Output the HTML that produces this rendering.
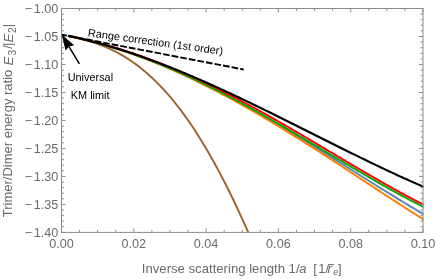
<!DOCTYPE html>
<html><head><meta charset="utf-8"><style>
html,body{margin:0;padding:0;background:#fff;}
body{width:436px;height:279px;overflow:hidden;position:relative;font-family:"Liberation Sans",sans-serif;}
</style></head><body>
<svg width="436" height="279" viewBox="0 0 436 279" style="position:absolute;left:0;top:0;will-change:transform">
<defs><clipPath id="c"><rect x="61.5" y="8.5" width="362.0" height="223.9"/></clipPath></defs>
<g clip-path="url(#c)" fill="none" stroke-width="1.9" stroke-linejoin="round">
<path d="M68.00,35.88 L70.00,36.29 L72.00,36.72 L74.00,37.15 L76.00,37.59 L78.00,38.04 L80.00,38.51 L82.00,38.98 L84.00,39.46 L86.00,39.95 L88.00,40.45 L90.00,40.95 L92.00,41.47 L94.00,42.00 L96.00,42.54 L98.00,43.08 L100.00,43.64 L102.00,44.20 L104.00,44.77 L106.00,45.36 L108.00,45.95 L110.00,46.55 L112.00,47.16 L114.00,47.78 L116.00,48.40 L118.00,49.04 L120.00,49.69 L122.00,50.34 L124.00,51.00 L126.00,51.68 L128.00,52.36 L130.00,53.05 L132.00,53.74 L134.00,54.45 L136.00,55.17 L138.00,55.89 L140.00,56.62 L142.00,57.36 L144.00,58.11 L146.00,58.87 L148.00,59.64 L150.00,60.41 L152.00,61.20 L154.00,61.99 L156.00,62.79 L158.00,63.59 L160.00,64.41 L162.00,65.23 L164.00,66.06 L166.00,66.90 L168.00,67.75 L170.00,68.61 L172.00,69.47 L174.00,70.34 L176.00,71.22 L178.00,72.10 L180.00,73.00 L182.00,73.90 L184.00,74.81 L186.00,75.72 L188.00,76.64 L190.00,77.57 L192.00,78.51 L194.00,79.46 L196.00,80.41 L198.00,81.37 L200.00,82.33 L202.00,83.31 L204.00,84.29 L206.00,85.27 L208.00,86.26 L210.00,87.26 L212.00,88.27 L214.00,89.28 L216.00,90.30 L218.00,91.33 L220.00,92.36 L222.00,93.40 L224.00,94.44 L226.00,95.49 L228.00,96.55 L230.00,97.61 L232.00,98.68 L234.00,99.75 L236.00,100.83 L238.00,101.92 L240.00,103.01 L242.00,104.10 L244.00,105.20 L246.00,106.31 L248.00,107.42 L250.00,108.54 L252.00,109.66 L254.00,110.79 L256.00,111.92 L258.00,113.06 L260.00,114.20 L262.00,115.34 L264.00,116.50 L266.00,117.65 L268.00,118.81 L270.00,119.97 L272.00,121.14 L274.00,122.32 L276.00,123.49 L278.00,124.67 L280.00,125.86 L282.00,127.04 L284.00,128.24 L286.00,129.43 L288.00,130.63 L290.00,131.83 L292.00,133.04 L294.00,134.25 L296.00,135.46 L298.00,136.67 L300.00,137.89 L302.00,139.11 L304.00,140.33 L306.00,141.56 L308.00,142.79 L310.00,144.02 L312.00,145.25 L314.00,146.49 L316.00,147.72 L318.00,148.96 L320.00,150.20 L322.00,151.45 L324.00,152.69 L326.00,153.94 L328.00,155.18 L330.00,156.43 L332.00,157.68 L334.00,158.93 L336.00,160.18 L338.00,161.44 L340.00,162.69 L342.00,163.95 L344.00,165.20 L346.00,166.46 L348.00,167.71 L350.00,168.97 L352.00,170.22 L354.00,171.48 L356.00,172.74 L358.00,173.99 L360.00,175.25 L362.00,176.50 L364.00,177.76 L366.00,179.01 L368.00,180.26 L370.00,181.51 L372.00,182.76 L374.00,184.01 L376.00,185.26 L378.00,186.51 L380.00,187.75 L382.00,188.99 L384.00,190.23 L386.00,191.47 L388.00,192.71 L390.00,193.94 L392.00,195.18 L394.00,196.40 L396.00,197.63 L398.00,198.86 L400.00,200.08 L402.00,201.29 L404.00,202.51 L406.00,203.72 L408.00,204.93 L410.00,206.13 L412.00,207.33 L414.00,208.53 L416.00,209.72 L418.00,210.91 L420.00,212.10 L422.00,213.28 L424.00,214.45" stroke="#5E81B5" stroke-width="1.95"/>
<path d="M68.00,35.88 L70.00,36.29 L72.00,36.72 L74.00,37.15 L76.00,37.60 L78.00,38.05 L80.00,38.51 L82.00,38.98 L84.00,39.47 L86.00,39.96 L88.00,40.46 L90.00,40.97 L92.00,41.49 L94.00,42.02 L96.00,42.56 L98.00,43.11 L100.00,43.67 L102.00,44.23 L104.00,44.81 L106.00,45.40 L108.00,45.99 L110.00,46.60 L112.00,47.21 L114.00,47.83 L116.00,48.46 L118.00,49.11 L120.00,49.76 L122.00,50.41 L124.00,51.08 L126.00,51.76 L128.00,52.45 L130.00,53.14 L132.00,53.85 L134.00,54.56 L136.00,55.28 L138.00,56.01 L140.00,56.75 L142.00,57.50 L144.00,58.26 L146.00,59.02 L148.00,59.80 L150.00,60.58 L152.00,61.37 L154.00,62.17 L156.00,62.98 L158.00,63.79 L160.00,64.62 L162.00,65.45 L164.00,66.29 L166.00,67.14 L168.00,68.00 L170.00,68.87 L172.00,69.74 L174.00,70.62 L176.00,71.51 L178.00,72.41 L180.00,73.31 L182.00,74.23 L184.00,75.15 L186.00,76.08 L188.00,77.01 L190.00,77.95 L192.00,78.91 L194.00,79.86 L196.00,80.83 L198.00,81.80 L200.00,82.78 L202.00,83.77 L204.00,84.77 L206.00,85.77 L208.00,86.78 L210.00,87.79 L212.00,88.82 L214.00,89.85 L216.00,90.88 L218.00,91.92 L220.00,92.97 L222.00,94.03 L224.00,95.09 L226.00,96.16 L228.00,97.24 L230.00,98.32 L232.00,99.41 L234.00,100.50 L236.00,101.60 L238.00,102.71 L240.00,103.82 L242.00,104.94 L244.00,106.06 L246.00,107.19 L248.00,108.33 L250.00,109.47 L252.00,110.62 L254.00,111.77 L256.00,112.93 L258.00,114.09 L260.00,115.26 L262.00,116.43 L264.00,117.61 L266.00,118.79 L268.00,119.98 L270.00,121.17 L272.00,122.37 L274.00,123.57 L276.00,124.78 L278.00,125.99 L280.00,127.20 L282.00,128.42 L284.00,129.64 L286.00,130.87 L288.00,132.10 L290.00,133.34 L292.00,134.58 L294.00,135.82 L296.00,137.07 L298.00,138.32 L300.00,139.57 L302.00,140.83 L304.00,142.09 L306.00,143.35 L308.00,144.62 L310.00,145.89 L312.00,147.16 L314.00,148.44 L316.00,149.72 L318.00,151.00 L320.00,152.28 L322.00,153.57 L324.00,154.86 L326.00,156.15 L328.00,157.44 L330.00,158.73 L332.00,160.03 L334.00,161.33 L336.00,162.63 L338.00,163.93 L340.00,165.23 L342.00,166.54 L344.00,167.84 L346.00,169.15 L348.00,170.46 L350.00,171.77 L352.00,173.08 L354.00,174.39 L356.00,175.70 L358.00,177.01 L360.00,178.32 L362.00,179.63 L364.00,180.95 L366.00,182.26 L368.00,183.57 L370.00,184.88 L372.00,186.19 L374.00,187.51 L376.00,188.82 L378.00,190.13 L380.00,191.44 L382.00,192.75 L384.00,194.05 L386.00,195.36 L388.00,196.67 L390.00,197.97 L392.00,199.27 L394.00,200.57 L396.00,201.87 L398.00,203.17 L400.00,204.47 L402.00,205.76 L404.00,207.05 L406.00,208.34 L408.00,209.62 L410.00,210.91 L412.00,212.19 L414.00,213.47 L416.00,214.74 L418.00,216.01 L420.00,217.28 L422.00,218.55 L424.00,219.81" stroke="#FF8000" stroke-width="1.95"/>
<path d="M68.00,35.87 L70.00,36.29 L72.00,36.71 L74.00,37.15 L76.00,37.61 L78.00,38.08 L80.00,38.57 L82.00,39.09 L84.00,39.62 L86.00,40.17 L88.00,40.75 L90.00,41.35 L92.00,41.98 L94.00,42.63 L96.00,43.31 L98.00,44.03 L100.00,44.77 L102.00,45.54 L104.00,46.34 L106.00,47.18 L108.00,48.06 L110.00,48.96 L112.00,49.91 L114.00,50.89 L116.00,51.91 L118.00,52.97 L120.00,54.07 L122.00,55.21 L124.00,56.39 L126.00,57.62 L128.00,58.89 L130.00,60.20 L132.00,61.56 L134.00,62.96 L136.00,64.41 L138.00,65.90 L140.00,67.45 L142.00,69.04 L144.00,70.68 L146.00,72.37 L148.00,74.11 L150.00,75.91 L152.00,77.75 L154.00,79.64 L156.00,81.59 L158.00,83.59 L160.00,85.64 L162.00,87.75 L164.00,89.91 L166.00,92.13 L168.00,94.40 L170.00,96.72 L172.00,99.11 L174.00,101.54 L176.00,104.04 L178.00,106.59 L180.00,109.19 L182.00,111.86 L184.00,114.58 L186.00,117.35 L188.00,120.19 L190.00,123.08 L192.00,126.03 L194.00,129.04 L196.00,132.11 L198.00,135.23 L200.00,138.41 L202.00,141.65 L204.00,144.95 L206.00,148.30 L208.00,151.71 L210.00,155.18 L212.00,158.71 L214.00,162.30 L216.00,165.94 L218.00,169.64 L220.00,173.40 L222.00,177.21 L224.00,181.08 L226.00,185.01 L228.00,188.99 L230.00,193.03 L232.00,197.12 L234.00,201.27 L236.00,205.48 L238.00,209.74 L240.00,214.05 L242.00,218.41 L244.00,222.83 L246.00,227.30 L248.00,231.83 L250.00,236.40" stroke="#996633" stroke-width="1.95"/>
<path d="M68.00,35.88 L70.00,36.29 L72.00,36.71 L74.00,37.14 L76.00,37.58 L78.00,38.03 L80.00,38.49 L82.00,38.96 L84.00,39.44 L86.00,39.93 L88.00,40.42 L90.00,40.93 L92.00,41.44 L94.00,41.97 L96.00,42.50 L98.00,43.04 L100.00,43.59 L102.00,44.15 L104.00,44.72 L106.00,45.30 L108.00,45.88 L110.00,46.48 L112.00,47.09 L114.00,47.70 L116.00,48.32 L118.00,48.95 L120.00,49.59 L122.00,50.24 L124.00,50.90 L126.00,51.57 L128.00,52.24 L130.00,52.93 L132.00,53.62 L134.00,54.32 L136.00,55.03 L138.00,55.75 L140.00,56.48 L142.00,57.21 L144.00,57.95 L146.00,58.71 L148.00,59.47 L150.00,60.23 L152.00,61.01 L154.00,61.80 L156.00,62.59 L158.00,63.39 L160.00,64.20 L162.00,65.01 L164.00,65.84 L166.00,66.67 L168.00,67.51 L170.00,68.36 L172.00,69.22 L174.00,70.08 L176.00,70.95 L178.00,71.83 L180.00,72.71 L182.00,73.61 L184.00,74.51 L186.00,75.41 L188.00,76.33 L190.00,77.25 L192.00,78.18 L194.00,79.12 L196.00,80.06 L198.00,81.01 L200.00,81.96 L202.00,82.93 L204.00,83.90 L206.00,84.87 L208.00,85.86 L210.00,86.84 L212.00,87.84 L214.00,88.84 L216.00,89.85 L218.00,90.86 L220.00,91.88 L222.00,92.91 L224.00,93.94 L226.00,94.97 L228.00,96.02 L230.00,97.07 L232.00,98.12 L234.00,99.18 L236.00,100.24 L238.00,101.31 L240.00,102.39 L242.00,103.46 L244.00,104.55 L246.00,105.64 L248.00,106.73 L250.00,107.83 L252.00,108.93 L254.00,110.04 L256.00,111.15 L258.00,112.27 L260.00,113.39 L262.00,114.51 L264.00,115.64 L266.00,116.77 L268.00,117.91 L270.00,119.05 L272.00,120.19 L274.00,121.33 L276.00,122.48 L278.00,123.64 L280.00,124.79 L282.00,125.95 L284.00,127.11 L286.00,128.27 L288.00,129.44 L290.00,130.61 L292.00,131.78 L294.00,132.95 L296.00,134.13 L298.00,135.30 L300.00,136.48 L302.00,137.66 L304.00,138.84 L306.00,140.03 L308.00,141.21 L310.00,142.40 L312.00,143.58 L314.00,144.77 L316.00,145.96 L318.00,147.15 L320.00,148.34 L322.00,149.53 L324.00,150.72 L326.00,151.91 L328.00,153.10 L330.00,154.29 L332.00,155.48 L334.00,156.67 L336.00,157.86 L338.00,159.05 L340.00,160.24 L342.00,161.42 L344.00,162.61 L346.00,163.79 L348.00,164.98 L350.00,166.16 L352.00,167.34 L354.00,168.51 L356.00,169.69 L358.00,170.86 L360.00,172.03 L362.00,173.20 L364.00,174.37 L366.00,175.53 L368.00,176.69 L370.00,177.85 L372.00,179.00 L374.00,180.15 L376.00,181.29 L378.00,182.44 L380.00,183.57 L382.00,184.71 L384.00,185.84 L386.00,186.96 L388.00,188.08 L390.00,189.20 L392.00,190.31 L394.00,191.42 L396.00,192.52 L398.00,193.61 L400.00,194.70 L402.00,195.78 L404.00,196.86 L406.00,197.93 L408.00,199.00 L410.00,200.05 L412.00,201.11 L414.00,202.15 L416.00,203.19 L418.00,204.22 L420.00,205.24 L422.00,206.25 L424.00,207.26" stroke="#00AA00" stroke-width="1.95"/>
<path d="M68.00,35.87 L70.00,36.28 L72.00,36.70 L74.00,37.12 L76.00,37.55 L78.00,37.99 L80.00,38.44 L82.00,38.90 L84.00,39.36 L86.00,39.84 L88.00,40.32 L90.00,40.81 L92.00,41.31 L94.00,41.82 L96.00,42.33 L98.00,42.85 L100.00,43.39 L102.00,43.93 L104.00,44.47 L106.00,45.03 L108.00,45.60 L110.00,46.17 L112.00,46.75 L114.00,47.34 L116.00,47.94 L118.00,48.55 L120.00,49.16 L122.00,49.79 L124.00,50.42 L126.00,51.06 L128.00,51.71 L130.00,52.36 L132.00,53.03 L134.00,53.70 L136.00,54.38 L138.00,55.07 L140.00,55.77 L142.00,56.48 L144.00,57.19 L146.00,57.92 L148.00,58.65 L150.00,59.39 L152.00,60.13 L154.00,60.89 L156.00,61.65 L158.00,62.42 L160.00,63.20 L162.00,63.99 L164.00,64.78 L166.00,65.58 L168.00,66.39 L170.00,67.21 L172.00,68.04 L174.00,68.87 L176.00,69.71 L178.00,70.56 L180.00,71.41 L182.00,72.28 L184.00,73.15 L186.00,74.03 L188.00,74.91 L190.00,75.80 L192.00,76.70 L194.00,77.61 L196.00,78.53 L198.00,79.45 L200.00,80.38 L202.00,81.31 L204.00,82.25 L206.00,83.20 L208.00,84.16 L210.00,85.12 L212.00,86.09 L214.00,87.06 L216.00,88.05 L218.00,89.03 L220.00,90.03 L222.00,91.03 L224.00,92.04 L226.00,93.05 L228.00,94.07 L230.00,95.10 L232.00,96.13 L234.00,97.16 L236.00,98.21 L238.00,99.25 L240.00,100.31 L242.00,101.37 L244.00,102.43 L246.00,103.50 L248.00,104.57 L250.00,105.65 L252.00,106.74 L254.00,107.83 L256.00,108.92 L258.00,110.02 L260.00,111.13 L262.00,112.23 L264.00,113.35 L266.00,114.46 L268.00,115.58 L270.00,116.71 L272.00,117.84 L274.00,118.97 L276.00,120.11 L278.00,121.25 L280.00,122.39 L282.00,123.54 L284.00,124.69 L286.00,125.84 L288.00,127.00 L290.00,128.16 L292.00,129.32 L294.00,130.48 L296.00,131.65 L298.00,132.82 L300.00,133.99 L302.00,135.17 L304.00,136.34 L306.00,137.52 L308.00,138.70 L310.00,139.88 L312.00,141.06 L314.00,142.25 L316.00,143.43 L318.00,144.62 L320.00,145.81 L322.00,147.00 L324.00,148.18 L326.00,149.37 L328.00,150.56 L330.00,151.75 L332.00,152.94 L334.00,154.13 L336.00,155.32 L338.00,156.51 L340.00,157.70 L342.00,158.89 L344.00,160.08 L346.00,161.26 L348.00,162.45 L350.00,163.63 L352.00,164.81 L354.00,166.00 L356.00,167.17 L358.00,168.35 L360.00,169.53 L362.00,170.70 L364.00,171.87 L366.00,173.04 L368.00,174.20 L370.00,175.36 L372.00,176.52 L374.00,177.67 L376.00,178.82 L378.00,179.97 L380.00,181.12 L382.00,182.26 L384.00,183.39 L386.00,184.52 L388.00,185.65 L390.00,186.77 L392.00,187.89 L394.00,189.00 L396.00,190.10 L398.00,191.20 L400.00,192.30 L402.00,193.39 L404.00,194.47 L406.00,195.54 L408.00,196.61 L410.00,197.68 L412.00,198.73 L414.00,199.78 L416.00,200.82 L418.00,201.85 L420.00,202.88 L422.00,203.90 L424.00,204.91" stroke="#FF0000" stroke-width="1.95"/>
<path d="M68.00,35.88 L70.00,36.29 L72.00,36.71 L74.00,37.14 L76.00,37.58 L78.00,38.03 L80.00,38.49 L82.00,38.96 L84.00,39.44 L86.00,39.92 L88.00,40.41 L90.00,40.92 L92.00,41.43 L94.00,41.94 L96.00,42.47 L98.00,43.01 L100.00,43.55 L102.00,44.10 L104.00,44.66 L106.00,45.23 L108.00,45.81 L110.00,46.39 L112.00,46.98 L114.00,47.58 L116.00,48.19 L118.00,48.81 L120.00,49.43 L122.00,50.06 L124.00,50.70 L126.00,51.34 L128.00,52.00 L130.00,52.66 L132.00,53.32 L134.00,54.00 L136.00,54.68 L138.00,55.37 L140.00,56.06 L142.00,56.77 L144.00,57.47 L146.00,58.19 L148.00,58.91 L150.00,59.64 L152.00,60.38 L154.00,61.12 L156.00,61.86 L158.00,62.62 L160.00,63.38 L162.00,64.15 L164.00,64.92 L166.00,65.70 L168.00,66.48 L170.00,67.27 L172.00,68.07 L174.00,68.87 L176.00,69.68 L178.00,70.49 L180.00,71.31 L182.00,72.13 L184.00,72.96 L186.00,73.79 L188.00,74.63 L190.00,75.48 L192.00,76.33 L194.00,77.18 L196.00,78.04 L198.00,78.91 L200.00,79.77 L202.00,80.65 L204.00,81.53 L206.00,82.41 L208.00,83.30 L210.00,84.19 L212.00,85.08 L214.00,85.98 L216.00,86.88 L218.00,87.79 L220.00,88.70 L222.00,89.62 L224.00,90.54 L226.00,91.46 L228.00,92.39 L230.00,93.32 L232.00,94.25 L234.00,95.19 L236.00,96.13 L238.00,97.07 L240.00,98.02 L242.00,98.97 L244.00,99.92 L246.00,100.88 L248.00,101.83 L250.00,102.80 L252.00,103.76 L254.00,104.72 L256.00,105.69 L258.00,106.66 L260.00,107.64 L262.00,108.61 L264.00,109.59 L266.00,110.57 L268.00,111.55 L270.00,112.54 L272.00,113.52 L274.00,114.51 L276.00,115.50 L278.00,116.49 L280.00,117.48 L282.00,118.47 L284.00,119.47 L286.00,120.46 L288.00,121.46 L290.00,122.46 L292.00,123.46 L294.00,124.46 L296.00,125.46 L298.00,126.46 L300.00,127.46 L302.00,128.46 L304.00,129.47 L306.00,130.47 L308.00,131.47 L310.00,132.48 L312.00,133.48 L314.00,134.48 L316.00,135.49 L318.00,136.49 L320.00,137.49 L322.00,138.50 L324.00,139.50 L326.00,140.50 L328.00,141.50 L330.00,142.50 L332.00,143.50 L334.00,144.50 L336.00,145.50 L338.00,146.50 L340.00,147.49 L342.00,148.49 L344.00,149.48 L346.00,150.47 L348.00,151.46 L350.00,152.45 L352.00,153.44 L354.00,154.42 L356.00,155.40 L358.00,156.38 L360.00,157.36 L362.00,158.34 L364.00,159.31 L366.00,160.29 L368.00,161.25 L370.00,162.22 L372.00,163.19 L374.00,164.15 L376.00,165.11 L378.00,166.06 L380.00,167.01 L382.00,167.96 L384.00,168.91 L386.00,169.85 L388.00,170.79 L390.00,171.73 L392.00,172.66 L394.00,173.59 L396.00,174.52 L398.00,175.44 L400.00,176.35 L402.00,177.27 L404.00,178.17 L406.00,179.08 L408.00,179.98 L410.00,180.87 L412.00,181.77 L414.00,182.65 L416.00,183.53 L418.00,184.41 L420.00,185.28 L422.00,186.15 L424.00,187.01" stroke="#000000" stroke-width="2.1"/>
<path d="M61.5,34.6 L243.7,69.5" stroke="#000" stroke-width="1.9" stroke-dasharray="6.7 2.02" stroke-dashoffset="1.2"/>
</g>
<rect x="61.5" y="8.5" width="361.5" height="223.9" fill="none" stroke="#8a8a8a" stroke-width="1"/>
<path d="M61.50,232.4 v-4 M61.50,8.5 v4 M79.58,232.4 v-2.5 M79.58,8.5 v2.5 M97.65,232.4 v-2.5 M97.65,8.5 v2.5 M115.72,232.4 v-2.5 M115.72,8.5 v2.5 M133.80,232.4 v-4 M133.80,8.5 v4 M151.88,232.4 v-2.5 M151.88,8.5 v2.5 M169.95,232.4 v-2.5 M169.95,8.5 v2.5 M188.03,232.4 v-2.5 M188.03,8.5 v2.5 M206.10,232.4 v-4 M206.10,8.5 v4 M224.17,232.4 v-2.5 M224.17,8.5 v2.5 M242.25,232.4 v-2.5 M242.25,8.5 v2.5 M260.32,232.4 v-2.5 M260.32,8.5 v2.5 M278.40,232.4 v-4 M278.40,8.5 v4 M296.48,232.4 v-2.5 M296.48,8.5 v2.5 M314.55,232.4 v-2.5 M314.55,8.5 v2.5 M332.62,232.4 v-2.5 M332.62,8.5 v2.5 M350.70,232.4 v-4 M350.70,8.5 v4 M368.77,232.4 v-2.5 M368.77,8.5 v2.5 M386.85,232.4 v-2.5 M386.85,8.5 v2.5 M404.93,232.4 v-2.5 M404.93,8.5 v2.5 M423.00,232.4 v-4 M423.00,8.5 v4 M61.5,8.50 h4 M423.0,8.50 h-4 M61.5,14.10 h2.5 M423.0,14.10 h-2.5 M61.5,19.70 h2.5 M423.0,19.70 h-2.5 M61.5,25.29 h2.5 M423.0,25.29 h-2.5 M61.5,30.89 h2.5 M423.0,30.89 h-2.5 M61.5,36.49 h4 M423.0,36.49 h-4 M61.5,42.09 h2.5 M423.0,42.09 h-2.5 M61.5,47.68 h2.5 M423.0,47.68 h-2.5 M61.5,53.28 h2.5 M423.0,53.28 h-2.5 M61.5,58.88 h2.5 M423.0,58.88 h-2.5 M61.5,64.48 h4 M423.0,64.48 h-4 M61.5,70.07 h2.5 M423.0,70.07 h-2.5 M61.5,75.67 h2.5 M423.0,75.67 h-2.5 M61.5,81.27 h2.5 M423.0,81.27 h-2.5 M61.5,86.87 h2.5 M423.0,86.87 h-2.5 M61.5,92.46 h4 M423.0,92.46 h-4 M61.5,98.06 h2.5 M423.0,98.06 h-2.5 M61.5,103.66 h2.5 M423.0,103.66 h-2.5 M61.5,109.25 h2.5 M423.0,109.25 h-2.5 M61.5,114.85 h2.5 M423.0,114.85 h-2.5 M61.5,120.45 h4 M423.0,120.45 h-4 M61.5,126.05 h2.5 M423.0,126.05 h-2.5 M61.5,131.64 h2.5 M423.0,131.64 h-2.5 M61.5,137.24 h2.5 M423.0,137.24 h-2.5 M61.5,142.84 h2.5 M423.0,142.84 h-2.5 M61.5,148.44 h4 M423.0,148.44 h-4 M61.5,154.03 h2.5 M423.0,154.03 h-2.5 M61.5,159.63 h2.5 M423.0,159.63 h-2.5 M61.5,165.23 h2.5 M423.0,165.23 h-2.5 M61.5,170.83 h2.5 M423.0,170.83 h-2.5 M61.5,176.43 h4 M423.0,176.43 h-4 M61.5,182.02 h2.5 M423.0,182.02 h-2.5 M61.5,187.62 h2.5 M423.0,187.62 h-2.5 M61.5,193.22 h2.5 M423.0,193.22 h-2.5 M61.5,198.82 h2.5 M423.0,198.82 h-2.5 M61.5,204.41 h4 M423.0,204.41 h-4 M61.5,210.01 h2.5 M423.0,210.01 h-2.5 M61.5,215.61 h2.5 M423.0,215.61 h-2.5 M61.5,221.20 h2.5 M423.0,221.20 h-2.5 M61.5,226.80 h2.5 M423.0,226.80 h-2.5 M61.5,232.40 h4 M423.0,232.40 h-4" fill="none" stroke="#8e8e8e" stroke-width="1"/>
<g font-family="Liberation Sans, sans-serif" font-size="12.65" fill="#6a6a6a">
<text x="61.50" y="248.1" text-anchor="middle">0.00</text>
<text x="133.80" y="248.1" text-anchor="middle">0.02</text>
<text x="206.10" y="248.1" text-anchor="middle">0.04</text>
<text x="278.40" y="248.1" text-anchor="middle">0.06</text>
<text x="350.70" y="248.1" text-anchor="middle">0.08</text>
<text x="423.00" y="248.1" text-anchor="middle">0.10</text>
<text x="58.4" y="12.90" text-anchor="end">−<tspan dx="1.6">1.00</tspan></text>
<text x="58.4" y="40.89" text-anchor="end">−<tspan dx="1.6">1.05</tspan></text>
<text x="58.4" y="68.88" text-anchor="end">−<tspan dx="1.6">1.10</tspan></text>
<text x="58.4" y="96.86" text-anchor="end">−<tspan dx="1.6">1.15</tspan></text>
<text x="58.4" y="124.85" text-anchor="end">−<tspan dx="1.6">1.20</tspan></text>
<text x="58.4" y="152.84" text-anchor="end">−<tspan dx="1.6">1.25</tspan></text>
<text x="58.4" y="180.83" text-anchor="end">−<tspan dx="1.6">1.30</tspan></text>
<text x="58.4" y="208.81" text-anchor="end">−<tspan dx="1.6">1.35</tspan></text>
<text x="58.4" y="236.80" text-anchor="end">−<tspan dx="1.6">1.40</tspan></text>
</g>
<g font-family="Liberation Sans, sans-serif" font-size="13.0" fill="#6a6a6a">
<text x="141.8" y="272.9" font-size="13.15">Inverse scattering length 1/</text>
<text x="299.3" y="272.9" font-style="italic">a</text>
<text x="313.2" y="272.9">[<tspan dx="1.5">1/</tspan></text>
<text x="327.4" y="272.9" font-style="italic">r</text>
<path d="M328.8,264.7 H333.9" stroke="#666" stroke-width="1"/>
<text x="333.2" y="275.2" font-style="italic" font-size="9.2">e</text>
<text x="338.1" y="272.9">]</text>
<g transform="translate(12.2,217) rotate(-90)">
<text x="-0.3" y="0">Trimer/Dimer energy ratio</text>
<text x="151.4" y="1.0" font-style="italic" font-size="13.5">E</text>
<text x="161.6" y="3.7" font-size="10.3">3</text>
<text x="168.3" y="0">/</text>
<text x="171.0" y="0">|</text>
<text x="174.4" y="1.0" font-style="italic" font-size="13.5">E</text>
<text x="183.9" y="3.7" font-size="10.3">2</text>
<text x="189.7" y="0">|</text>
</g></g>
<g font-family="Liberation Sans, sans-serif" font-size="10.9" fill="#000">
<text transform="translate(87.6,36.3) rotate(7.8)">Range correction (1st order)</text>
<text x="90.4" y="81.3" text-anchor="middle">Universal</text>
<text x="90.2" y="99.4" text-anchor="middle">KM limit</text>
</g>
<path d="M79.40,63.80 L69.02,46.57" stroke="#000" stroke-width="1.5" fill="none"/>
<path d="M61.70,34.40 L74.13,45.36 L69.02,46.57 L65.57,50.52 Z" fill="#000"/>
</svg>
</body></html>
